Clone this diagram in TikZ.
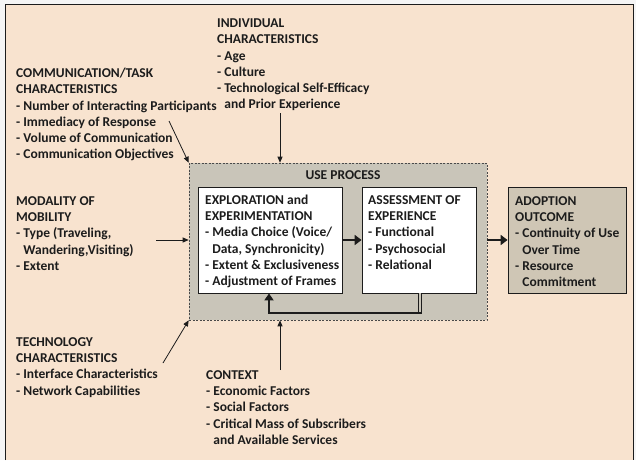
\documentclass[tikz,border=0pt]{standalone}
\usepackage{fontspec}
\setmainfont{Carlito}
\usetikzlibrary{arrows.meta}
\definecolor{bgpeach}{HTML}{F8E3CF}
\definecolor{usegray}{HTML}{C9C5B9}
\definecolor{adoptfill}{HTML}{CFC6B5}
\definecolor{ink}{HTML}{1C1C1C}
\tikzset{
  txt/.style={anchor=base west, align=left, inner sep=0pt, text=ink,
    font=\fontsize{13.5}{16.2}\selectfont\bfseries},
  box/.style={draw=ink, line width=0.8pt, fill=white, inner sep=0pt},
  arr/.style={draw=ink, line width=0.8pt, -{Triangle[length=6pt,width=5pt]}},
  bigarr/.style={draw=ink, line width=2.2pt, -{Triangle[length=7pt,width=10pt]}},
}
\newcommand{\ind}{\phantom{- }}
\begin{document}
\begin{tikzpicture}[x=1pt,y=-1pt]
\useasboundingbox (0,0) rectangle (636,460);
\fill[white!96!black] (0,0) rectangle (636,460);
\fill[bgpeach] (5,4) rectangle (633,460);
\draw[ink, line width=0.8pt] (5,460) -- (5,4) -- (633,4) -- (633,460);

% use process dashed box
\node[draw=ink!80, fill=usegray, dash pattern=on 2pt off 1.5pt, line width=0.6pt,
  minimum width=298pt, minimum height=157pt, inner sep=0pt] (use) at (338,241.5) {};
\node[anchor=base, inner sep=0pt, text=ink, font=\fontsize{13.5}{16.2}\selectfont\bfseries] (uselbl) at (343,179.5) {USE PROCESS};

% inner boxes
\node[box, minimum width=144pt, minimum height=106pt] (expl) at (270,240) {};
\node[box, minimum width=114pt, minimum height=106pt] (assess) at (419,240) {};
\node[box, fill=adoptfill, minimum width=118pt, minimum height=106pt] (adopt) at (567,240) {};

% (base anchor = baseline of the last line)
\node[txt] (explt) at (205,285.5) {EXPLORATION and\\EXPERIMENTATION\\- Media Choice (Voice/\\\ind Data, Synchronicity)\\- Extent \& Exclusiveness\\- Adjustment of Frames};
\node[txt] (assesst) at (368,269.3) {ASSESSMENT OF\\EXPERIENCE\\- Functional\\- Psychosocial\\- Relational};
\node[txt] (adoptt) at (515,286.5) {ADOPTION\\OUTCOME\\- Continuity of Use\\\ind Over Time\\- Resource\\\ind Commitment};

% outer text blocks
\node[txt] (indiv) at (217,108.6) {INDIVIDUAL\\CHARACTERISTICS\\- Age\\- Culture\\- Technological Self-Efficacy\\\ind and Prior Experience};
\node[txt] (comm) at (16,158.6) {COMMUNICATION/TASK\\CHARACTERISTICS\\- Number of Interacting Participants\\- Immediacy of Response\\- Volume of Communication\\- Communication Objectives};
\node[txt] (moda) at (16,270.3) {MODALITY OF\\MOBILITY\\- Type (Traveling,\\\ind Wandering,Visiting)\\- Extent};
\node[txt] (tech) at (16,395.1) {TECHNOLOGY\\CHARACTERISTICS\\- Interface Characteristics\\- Network Capabilities};
\node[txt] (ctx) at (206,444.3) {CONTEXT\\- Economic Factors\\- Social Factors\\- Critical Mass of Subscribers\\\ind and Available Services};

% connector start points
\coordinate (indA) at (280,113);
\coordinate (commA) at (169,121);
\coordinate (modA) at (156,240);
\coordinate (techA) at (163,363);
\coordinate (ctxA) at (280,370);
\coordinate (fbk) at (420,313);

\draw[arr] (indA) -- (indA |- use.north);
\draw[arr] (commA) -- (use.north west);
\draw[arr] (modA) -- (modA -| use.west);
\draw[arr] (techA) -- (use.south west);
\draw[arr] (ctxA) -- (ctxA |- use.south);

\draw[bigarr] (expl.east) -- (assess.west);
\draw[bigarr] (use.east |- adopt.west) -- (adopt.west);
% feedback loop
\draw[draw=ink, line width=1pt, double=usegray, double distance=1.3pt]
  (fbk |- assess.south) -- ([yshift=-1pt]fbk);
\draw[draw=ink, line width=2pt, -{Triangle[length=7pt,width=9pt]}]
  ([xshift=1.6pt]fbk) -| ([xshift=-1pt]expl.south);
\end{tikzpicture}
\end{document}
